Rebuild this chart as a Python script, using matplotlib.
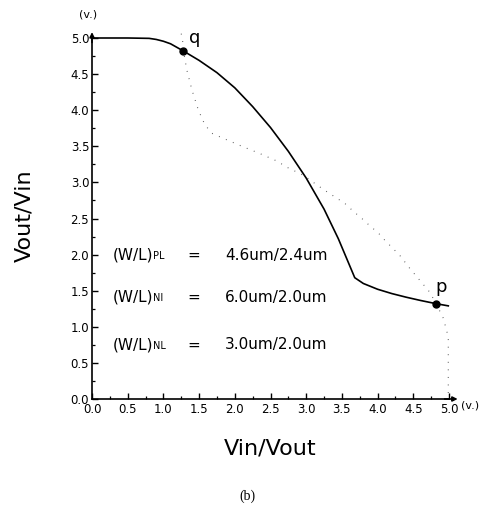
import matplotlib
matplotlib.use("Agg")
import matplotlib.pyplot as plt
from matplotlib.ticker import MultipleLocator, FormatStrFormatter

# Solid transfer curve (Vin -> Vout)
solid_x = [0.0, 0.5, 0.8, 0.9, 1.0, 1.1, 1.28, 1.5, 1.75, 2.0, 2.25, 2.5, 2.75,
           3.0, 3.25, 3.45, 3.68, 3.8, 4.0, 4.2, 4.4, 4.6, 4.82, 4.99]
solid_y = [5.0, 5.0, 4.995, 4.98, 4.955, 4.92, 4.82, 4.69, 4.52, 4.31, 4.05, 3.76, 3.43,
           3.06, 2.63, 2.22, 1.68, 1.60, 1.52, 1.46, 1.41, 1.365, 1.32, 1.29]

# Dotted mirrored curve (Vout -> Vin)
dot_x = [1.25, 1.27, 1.28, 1.33, 1.40, 1.49, 1.58, 1.68, 1.84, 2.10, 2.35, 2.58, 2.75,
         2.96, 3.10, 3.26, 3.40, 3.54, 3.66, 3.78, 3.89, 4.01, 4.10, 4.31, 4.45, 4.62,
         4.73, 4.82, 4.92, 4.99, 4.99]
dot_y = [5.06, 4.95, 4.82, 4.55, 4.28, 4.00, 3.80, 3.68, 3.61, 3.50, 3.40, 3.30, 3.20,
         3.10, 3.00, 2.89, 2.80, 2.71, 2.60, 2.50, 2.40, 2.30, 2.20, 1.99, 1.81, 1.61,
         1.48, 1.32, 1.12, 0.86, 0.0]

# Marked points
pt_labels = ["q", "p"]
pt_x = [1.28, 4.82]
pt_y = [4.82, 1.32]

# Annotations
wl_names = ["(W/L)", "(W/L)", "(W/L)"]
wl_subs = ["PL", "NI", "NL"]
wl_values = ["4.6um/2.4um", "6.0um/2.0um", "3.0um/2.0um"]
wl_y = [1.99, 1.41, 0.75]

xlabel = "Vin/Vout"
ylabel = "Vout/Vin"
unit = "(v.)"
caption = "(b)"

fig = plt.figure(figsize=(4.93, 5.08), dpi=100)
ax = fig.add_axes([92 / 493, 109 / 508, 357 / 493, 361 / 508])
ax.set_xlim(0, 5.0)
ax.set_ylim(0, 5.0)
for s in ["top", "right"]:
    ax.spines[s].set_visible(False)
for s in ["left", "bottom"]:
    ax.spines[s].set_linewidth(1.2)

ax.xaxis.set_major_locator(MultipleLocator(0.5))
ax.xaxis.set_minor_locator(MultipleLocator(0.25))
ax.yaxis.set_major_locator(MultipleLocator(0.5))
ax.yaxis.set_minor_locator(MultipleLocator(0.25))
ax.xaxis.set_major_formatter(FormatStrFormatter("%.1f"))
ax.yaxis.set_major_formatter(FormatStrFormatter("%.1f"))
ax.tick_params(which="major", direction="in", length=4, width=1.0, labelsize=8.5, pad=3)
ax.tick_params(which="minor", direction="in", length=2, width=0.9)
ax.tick_params(axis="y", which="major", pad=2)

# axis arrows
ax.annotate("", xy=(0, 5.12), xytext=(0, 4.9), xycoords="data",
            arrowprops=dict(arrowstyle="-|>", lw=1.2, color="black", mutation_scale=7),
            annotation_clip=False)
ax.annotate("", xy=(5.16, 0), xytext=(4.9, 0), xycoords="data",
            arrowprops=dict(arrowstyle="-|>", lw=1.2, color="black", mutation_scale=7),
            annotation_clip=False)

ax.plot(solid_x, solid_y, color="black", lw=1.2, clip_on=False, zorder=3)
ax.plot(dot_x, dot_y, color="#555555", lw=0.8, linestyle=(0, (0.8, 6)),
        clip_on=False, zorder=2)
ax.plot(pt_x, pt_y, "o", color="black", ms=5, clip_on=False, zorder=4)

ax.text(1.44, 5.0, pt_labels[0], fontsize=13, ha="center", va="center")
ax.text(4.89, 1.55, pt_labels[1], fontsize=13, ha="center", va="center")

for name, sub, val, y in zip(wl_names, wl_subs, wl_values, wl_y):
    t1 = ax.text(0.29, y, name, fontsize=11, ha="left", va="center")
    ax.annotate(sub, xy=(1.0, 0.12), xycoords=t1, fontsize=7, ha="left", va="bottom")
    ax.text(1.33, y, "=", fontsize=11, ha="left", va="center")
    ax.text(1.86, y, val, fontsize=11, ha="left", va="center")

ax.text(-0.05, 5.33, unit, fontsize=8, ha="center", va="center")
ax.text(5.3, -0.09, unit, fontsize=8, ha="center", va="center")

fig.text(270 / 493, 1 - 449 / 508, xlabel, fontsize=16, ha="center", va="center")
fig.text(24 / 493, 1 - 216 / 508, ylabel, fontsize=16, ha="center", va="center",
         rotation=90)
fig.text(247 / 493, 1 - 496 / 508, caption, fontsize=10, ha="center", va="center",
         family="Liberation Serif")

fig.savefig("out.png", dpi=100)
